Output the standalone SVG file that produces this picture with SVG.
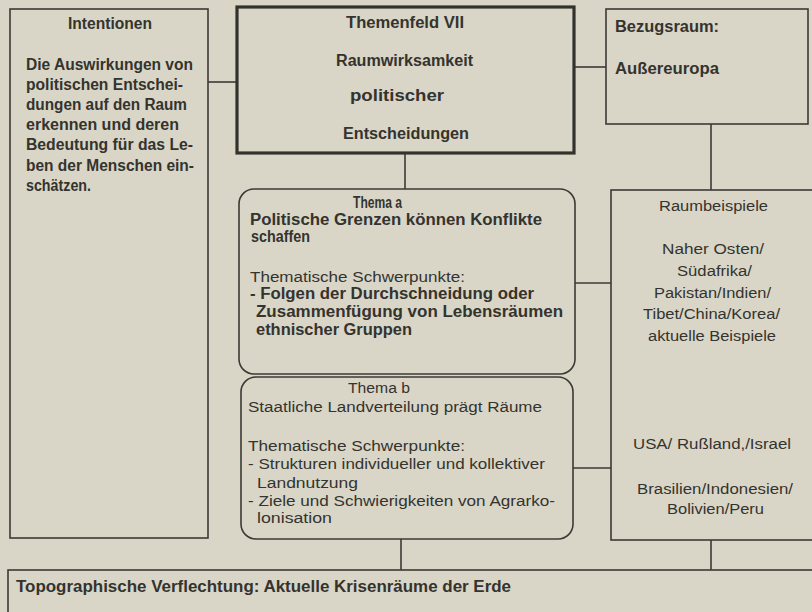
<svg xmlns="http://www.w3.org/2000/svg" width="812" height="612" viewBox="0 0 812 612">
  <style>
    .bg { fill: #d9d6c7; }
    .box { fill: none; stroke: #3b3a34; stroke-width: 1.6; }
    .thick { fill: none; stroke: #33322d; stroke-width: 3.2; }
    .wire { fill: none; stroke: #3b3a34; stroke-width: 1.6; }
    text { font-family: "Liberation Sans", Arial, sans-serif; fill: #34332e; font-size: 15.5px; }
    .b { font-weight: bold; font-size: 16px; }
    .r { font-weight: normal; }
  </style>

  <rect class="bg" x="0" y="0" width="812" height="612"/>

  <!-- connectors -->
  <g id="connectors">
    <line class="wire" x1="208" y1="82" x2="237" y2="82"/>
    <line class="wire" x1="574" y1="67" x2="606" y2="67"/>
    <line class="wire" x1="405" y1="153" x2="405" y2="189"/>
    <line class="wire" x1="711" y1="124" x2="711" y2="190"/>
    <line class="wire" x1="575" y1="283" x2="611" y2="283"/>
    <line class="wire" x1="573" y1="468" x2="611" y2="468"/>
    <line class="wire" x1="401" y1="539" x2="401" y2="570"/>
    <line class="wire" x1="711" y1="540" x2="711" y2="570"/>
  </g>

  <!-- Intentionen -->
  <g id="intentionen">
    <rect class="box" x="10" y="9" width="198" height="529"/>
    <text class="b" x="68" y="29" textLength="84" lengthAdjust="spacingAndGlyphs">Intentionen</text>
    <text class="b" x="26" y="70" textLength="167" lengthAdjust="spacingAndGlyphs">Die Auswirkungen von</text>
    <text class="b" x="26" y="90" textLength="157" lengthAdjust="spacingAndGlyphs">politischen Entschei-</text>
    <text class="b" x="26" y="110" textLength="161" lengthAdjust="spacingAndGlyphs">dungen auf den Raum</text>
    <text class="b" x="26" y="130" textLength="153" lengthAdjust="spacingAndGlyphs">erkennen und deren</text>
    <text class="b" x="26" y="150" textLength="167" lengthAdjust="spacingAndGlyphs">Bedeutung für das Le-</text>
    <text class="b" x="26" y="171" textLength="168" lengthAdjust="spacingAndGlyphs">ben der Menschen ein-</text>
    <text class="b" x="26" y="191" textLength="65" lengthAdjust="spacingAndGlyphs">schätzen.</text>
  </g>

  <!-- Themenfeld VII -->
  <g id="themenfeld">
    <rect class="thick" x="237" y="7" width="337" height="146"/>
    <text class="b" x="346" y="28" textLength="118" lengthAdjust="spacingAndGlyphs">Themenfeld VII</text>
    <text class="b" x="336" y="66" textLength="137" lengthAdjust="spacingAndGlyphs">Raumwirksamkeit</text>
    <text class="b" x="350" y="101" textLength="94" lengthAdjust="spacingAndGlyphs">politischer</text>
    <text class="b" x="343" y="139" textLength="126" lengthAdjust="spacingAndGlyphs">Entscheidungen</text>
  </g>

  <!-- Bezugsraum -->
  <g id="bezugsraum">
    <rect class="box" x="606" y="9" width="202" height="115"/>
    <text class="b" x="615" y="32" textLength="104" lengthAdjust="spacingAndGlyphs">Bezugsraum:</text>
    <text class="b" x="615" y="74" textLength="104" lengthAdjust="spacingAndGlyphs">Außereuropa</text>
  </g>

  <!-- Thema a -->
  <g id="thema-a">
    <rect class="box" x="239" y="189" width="336" height="185" rx="15" ry="15"/>
    <text class="b" x="353" y="208" textLength="49" lengthAdjust="spacingAndGlyphs">Thema a</text>
    <text class="b" x="250" y="225" textLength="292" lengthAdjust="spacingAndGlyphs">Politische Grenzen können Konflikte</text>
    <text class="b" x="251" y="242" textLength="59" lengthAdjust="spacingAndGlyphs">schaffen</text>
    <text class="r" x="250" y="282" textLength="215" lengthAdjust="spacingAndGlyphs">Thematische Schwerpunkte:</text>
    <text class="b" x="250" y="299" textLength="284" lengthAdjust="spacingAndGlyphs">- Folgen der Durchschneidung oder</text>
    <text class="b" x="256" y="317" textLength="307" lengthAdjust="spacingAndGlyphs">Zusammenfügung von Lebensräumen</text>
    <text class="b" x="256" y="335" textLength="156" lengthAdjust="spacingAndGlyphs">ethnischer Gruppen</text>
  </g>

  <!-- Thema b -->
  <g id="thema-b">
    <rect class="box" x="241" y="377" width="332" height="162" rx="15" ry="15"/>
    <text class="r" x="348" y="393" textLength="62" lengthAdjust="spacingAndGlyphs">Thema b</text>
    <text class="r" x="248" y="412" textLength="294" lengthAdjust="spacingAndGlyphs">Staatliche Landverteilung prägt Räume</text>
    <text class="r" x="248" y="451" textLength="217" lengthAdjust="spacingAndGlyphs">Thematische Schwerpunkte:</text>
    <text class="r" x="248" y="469" textLength="297" lengthAdjust="spacingAndGlyphs">- Strukturen individueller und kollektiver</text>
    <text class="r" x="257" y="488" textLength="101" lengthAdjust="spacingAndGlyphs">Landnutzung</text>
    <text class="r" x="248" y="506" textLength="307" lengthAdjust="spacingAndGlyphs">- Ziele und Schwierigkeiten von Agrarko-</text>
    <text class="r" x="257" y="523" textLength="75" lengthAdjust="spacingAndGlyphs">lonisation</text>
  </g>

  <!-- Raumbeispiele -->
  <g id="raumbeispiele">
    <rect class="box" x="611" y="190" width="220" height="350"/>
    <text class="r" x="659" y="211" textLength="109" lengthAdjust="spacingAndGlyphs">Raumbeispiele</text>
    <text class="r" x="662" y="254" textLength="102" lengthAdjust="spacingAndGlyphs">Naher Osten/</text>
    <text class="r" x="677" y="276" textLength="75" lengthAdjust="spacingAndGlyphs">Südafrika/</text>
    <text class="r" x="654" y="298" textLength="117" lengthAdjust="spacingAndGlyphs">Pakistan/Indien/</text>
    <text class="r" x="643" y="319" textLength="137" lengthAdjust="spacingAndGlyphs">Tibet/China/Korea/</text>
    <text class="r" x="648" y="341" textLength="128" lengthAdjust="spacingAndGlyphs">aktuelle Beispiele</text>
    <text class="r" x="633" y="449" textLength="158" lengthAdjust="spacingAndGlyphs">USA/ Rußland,/Israel</text>
    <text class="r" x="637" y="494" textLength="156" lengthAdjust="spacingAndGlyphs">Brasilien/Indonesien/</text>
    <text class="r" x="667" y="514" textLength="97" lengthAdjust="spacingAndGlyphs">Bolivien/Peru</text>
  </g>

  <!-- Topographische Verflechtung -->
  <g id="topographie">
    <rect class="box" x="8" y="570" width="830" height="70"/>
    <text class="b" x="16" y="592" textLength="495" lengthAdjust="spacingAndGlyphs">Topographische Verflechtung: Aktuelle Krisenräume der Erde</text>
  </g>
</svg>
